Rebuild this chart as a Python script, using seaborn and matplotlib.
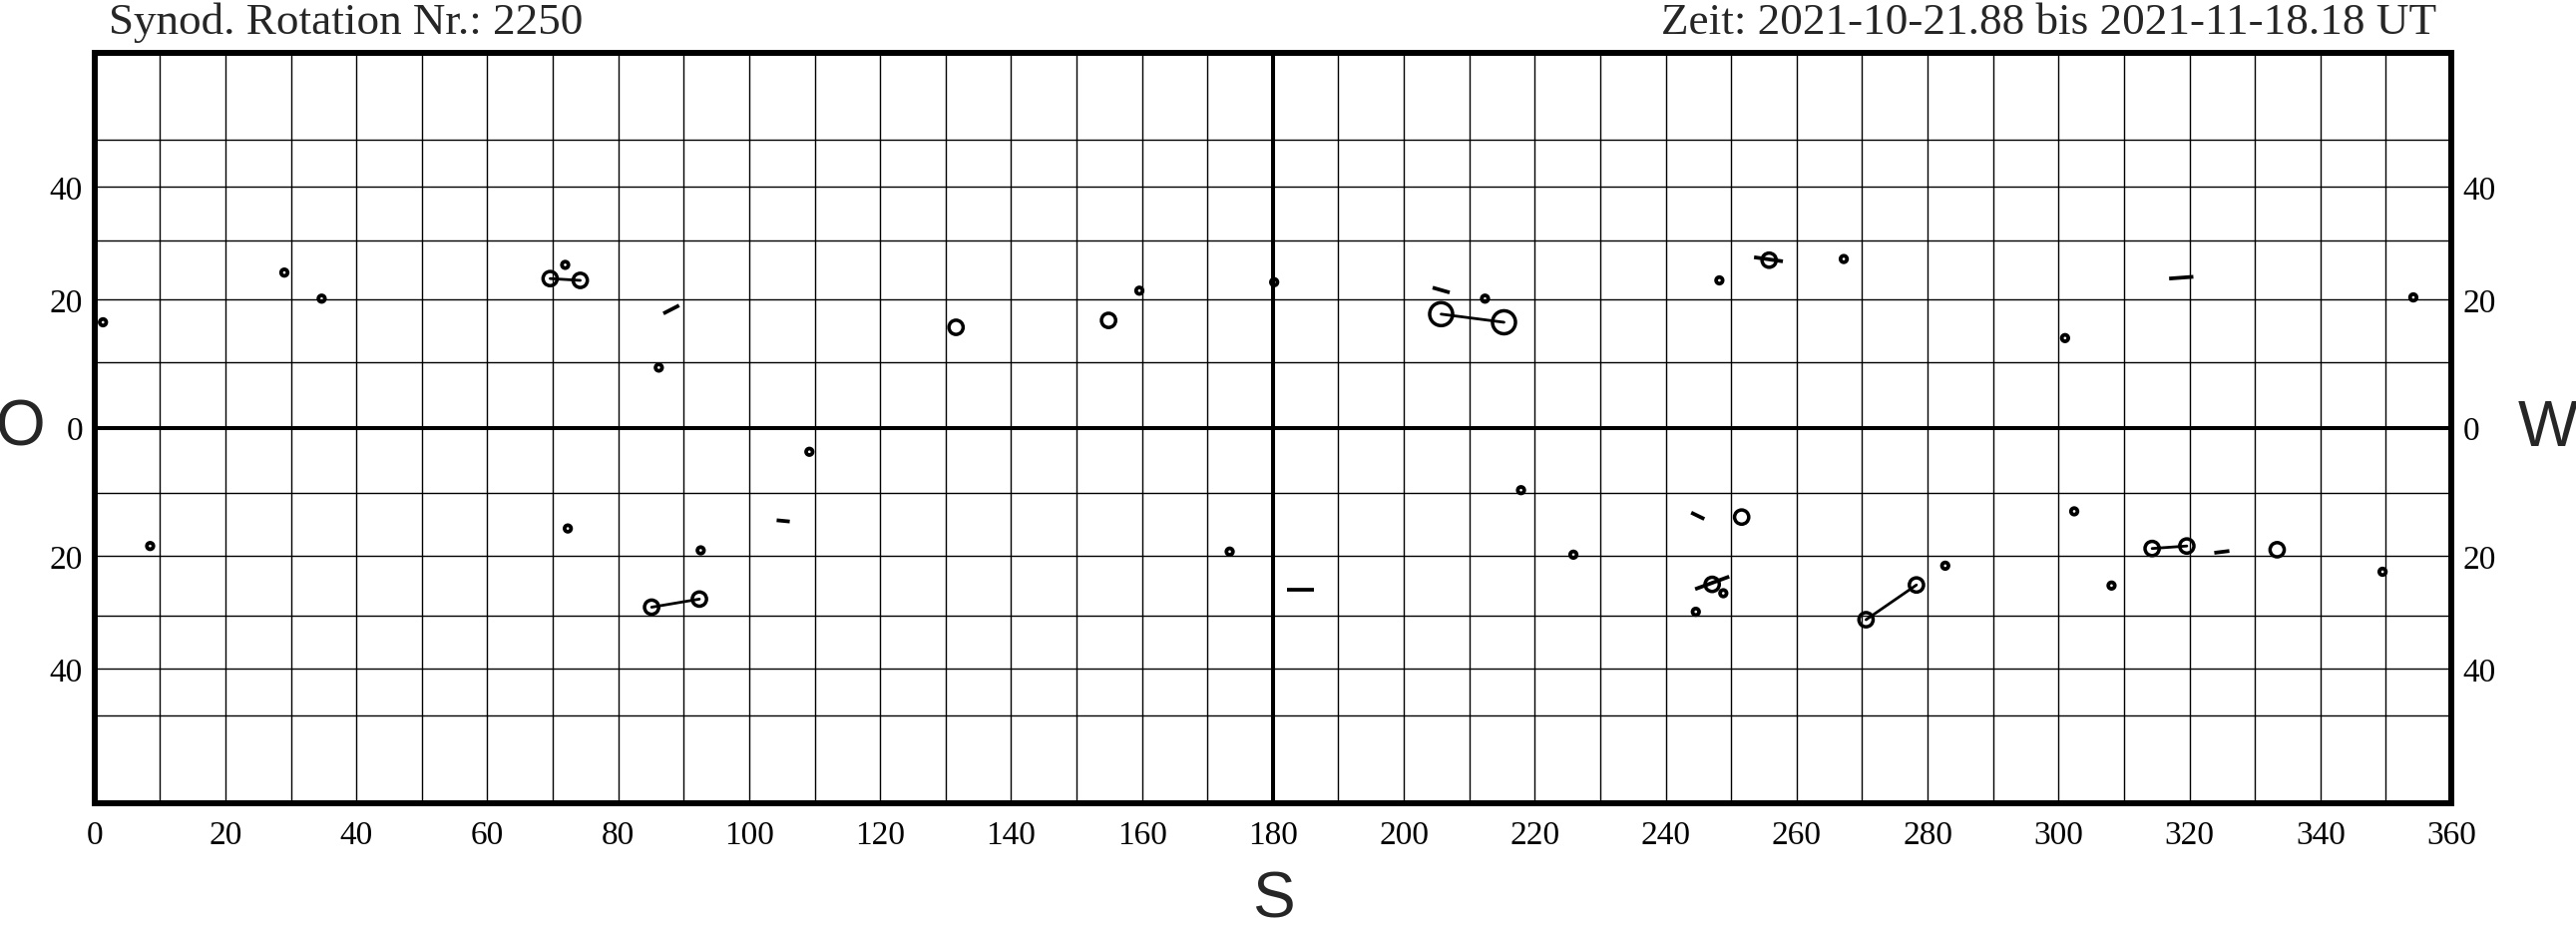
#synoptic sunspot map, rotation 2250
#longitude vs sin(latitude) grid with spots and groups

import numpy as np
import pandas as pd
import matplotlib
matplotlib.use('Agg')
import matplotlib.pyplot as plt
import seaborn as sns

sns.set_style('white')
plt.rcParams['font.family'] = ['Liberation Serif', 'DejaVu Serif']

title_left = 'Synod. Rotation Nr.: 2250'
title_right = 'Zeit: 2021-10-21.88 bis 2021-11-18.18 UT'

# small spots (ring dots)
dot_lon = [1.3, 29.0, 34.7, 8.5, 71.9, 86.2, 109.2, 72.3, 92.6, 159.6, 173.4, 180.2,
           212.4, 217.9, 225.9, 248.2, 267.2, 301.0, 302.4, 248.8, 244.6, 282.7,
           354.2, 308.1, 349.5]
dot_lat = [16.3, 24.4, 20.1, -18.4, 25.7, 9.2, -3.7, -15.6, -19.1, 21.4, -19.3, 22.8,
           20.1, -9.6, -19.8, 23.1, 26.7, 13.8, -12.9, -26.2, -29.4, -21.6,
           20.3, -24.9, -22.6]

# medium circles
circ_lon = [131.6, 154.9, 251.6, 333.4, 69.6, 74.2, 85.1, 92.4, 314.3, 319.6,
            247.1, 255.8, 270.6, 278.3]
circ_lat = [15.5, 16.6, -13.8, -19.0, 23.4, 23.1, -28.6, -27.2, -18.8, -18.4,
            -24.7, 26.5, -30.8, -24.8]

# large circles
big_lon = [205.7, 215.3]
big_lat = [17.6, 16.3]

# connections between group members
link_lon0 = [69.6, 85.1, 205.7, 270.6, 314.3]
link_lat0 = [23.4, -28.6, 17.6, -30.8, -18.8]
link_lon1 = [74.2, 92.4, 215.3, 278.3, 319.6]
link_lat1 = [23.1, -27.2, 16.3, -24.8, -18.4]

# short dashes
dash_lon0 = [86.9, 104.2, 182.2, 204.4, 243.9, 253.5, 244.5, 316.9, 323.8]
dash_lat0 = [17.7, -14.3, -25.6, 21.9, -13.1, 27.0, -25.5, 23.4, -19.5]
dash_lon1 = [89.3, 106.2, 186.2, 207.0, 245.9, 257.9, 249.7, 320.6, 326.1]
dash_lat1 = [19.0, -14.5, -25.6, 21.1, -14.1, 26.3, -23.4, 23.7, -19.2]

x_ticks = list(range(0, 361, 20))
y_grid = list(range(-50, 51, 10))


def seg_frame(lon0, lat0, lon1, lat1):
    rows = []
    for i in range(len(lon0)):
        rows.append({'seg': i, 'lon': lon0[i], 'lat': lat0[i]})
        rows.append({'seg': i, 'lon': lon1[i], 'lat': lat1[i]})
    return pd.DataFrame(rows)


def fwd(lat):
    return np.sin(np.radians(lat))


def inv(s):
    return np.degrees(np.arcsin(np.clip(s, -1, 1)))


fig = plt.figure(figsize=(25.82, 9.28), dpi=100)
ax = fig.add_axes([0.03668, 0.1320, 0.91491, 0.81034])

ax.set_yscale('function', functions=(fwd, inv))
ax.set_xlim(0, 360)
ax.set_ylim(-90, 90)

# grid
ax.set_xticks(x_ticks)
ax.set_xticks(range(10, 360, 20), minor=True)
ax.set_yticks(y_grid)
ax.set_yticklabels([str(abs(v)) if v % 20 == 0 else '' for v in y_grid])
ax.set_yticks([], minor=True)
ax.grid(which='both', color='black', lw=1.0)
ax.set_axisbelow(True)
ax.axhline(0, color='black', lw=2.9, zorder=1)
ax.axvline(180, color='black', lw=2.9, zorder=1)

for sp in ax.spines.values():
    sp.set_linewidth(4.3)
    sp.set_color('black')
    sp.set_zorder(5)

ax.tick_params(which='both', length=0, labelsize=24, labelcolor='black')
ax.tick_params(axis='y', labelright=True, pad=8.5)
ax.tick_params(axis='x', pad=12)

# connections and dashes
links = seg_frame(link_lon0, link_lat0, link_lon1, link_lat1)
sns.lineplot(data=links, x='lon', y='lat', units='seg', estimator=None, sort=False,
             color='black', lw=2.0, ax=ax, zorder=3)
dashes = seg_frame(dash_lon0, dash_lat0, dash_lon1, dash_lat1)
sns.lineplot(data=dashes, x='lon', y='lat', units='seg', estimator=None, sort=False,
             color='black', lw=2.7, solid_capstyle='butt', ax=ax, zorder=3)

# spots
sns.scatterplot(x=dot_lon, y=dot_lat, ax=ax, marker='o', s=22, facecolor='none',
                edgecolor='black', linewidth=2.7, zorder=4)
sns.scatterplot(x=circ_lon, y=circ_lat, ax=ax, marker='o', s=105, facecolor='none',
                edgecolor='black', linewidth=2.5, zorder=4)
sns.scatterplot(x=big_lon, y=big_lat, ax=ax, marker='o', s=275, facecolor='none',
                edgecolor='black', linewidth=2.5, zorder=4)
ax.set_xlabel('')
ax.set_ylabel('')

# header texts
fig.text(109 / 2582, 1 - 34 / 928, title_left, fontsize=32.5, va='baseline', ha='left')
fig.text(2442 / 2582, 1 - 34 / 928, title_right, fontsize=32.5, va='baseline', ha='right')

# direction letters
sans = ['Liberation Sans', 'DejaVu Sans']
fig.text(21 / 2582, 1 - 430 / 928, 'O', fontsize=46, family=sans, ha='center', va='center')
fig.text(2554 / 2582, 1 - 430 / 928, 'W', fontsize=46, family=sans, ha='center', va='center')
fig.text(1276 / 2582, 1 - 903 / 928, 'S', fontsize=46, family=sans, ha='center', va='center')

fig.savefig('out.png', dpi=100, facecolor='white')
